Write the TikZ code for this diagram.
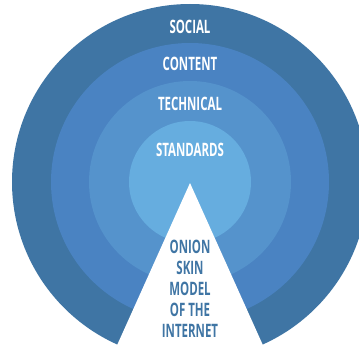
\documentclass[tikz,border=0pt]{standalone}
\usepackage{fontspec}
\setmainfont{Open Sans}[FakeStretch=0.62]

\definecolor{socialblue}{RGB}{63,117,164}
\definecolor{contentblue}{RGB}{74,131,194}
\definecolor{technicalblue}{RGB}{85,147,204}
\definecolor{standardsblue}{RGB}{102,173,223}

\tikzset{
	layer/.style={font=\bfseries\fontsize{18.5}{18.5}\selectfont, text=white, inner sep=0pt},
	wedge text/.style={font=\bfseries\fontsize{18.5}{21}\selectfont, text=socialblue, align=center, inner sep=0pt}
}

\begin{document}
\begin{tikzpicture}[x=1pt,y=-1pt]
\clip (0,0) rectangle (359,345);

% onion skins, outside in
\fill[socialblue] (190,182) circle (178pt);
\fill[contentblue] (190,182) circle (139pt);
\fill[technicalblue] (190,182) circle (101pt);
\fill[standardsblue] (190,182) circle (61pt);

% the cut
\fill[white] (190,183) -- (114,352) -- (266,352) -- cycle;

\path (190,27) node[layer] (social) {SOCIAL};
\path (190,64) node[layer] (content) {CONTENT};
\path (190,104) node[layer] (technical) {TECHNICAL};
\path (190,150) node[layer] (standards) {STANDARDS};

\path (190,289) node[wedge text] (title) {ONION\\SKIN\\MODEL\\OF THE\\INTERNET};

\end{tikzpicture}
\end{document}
